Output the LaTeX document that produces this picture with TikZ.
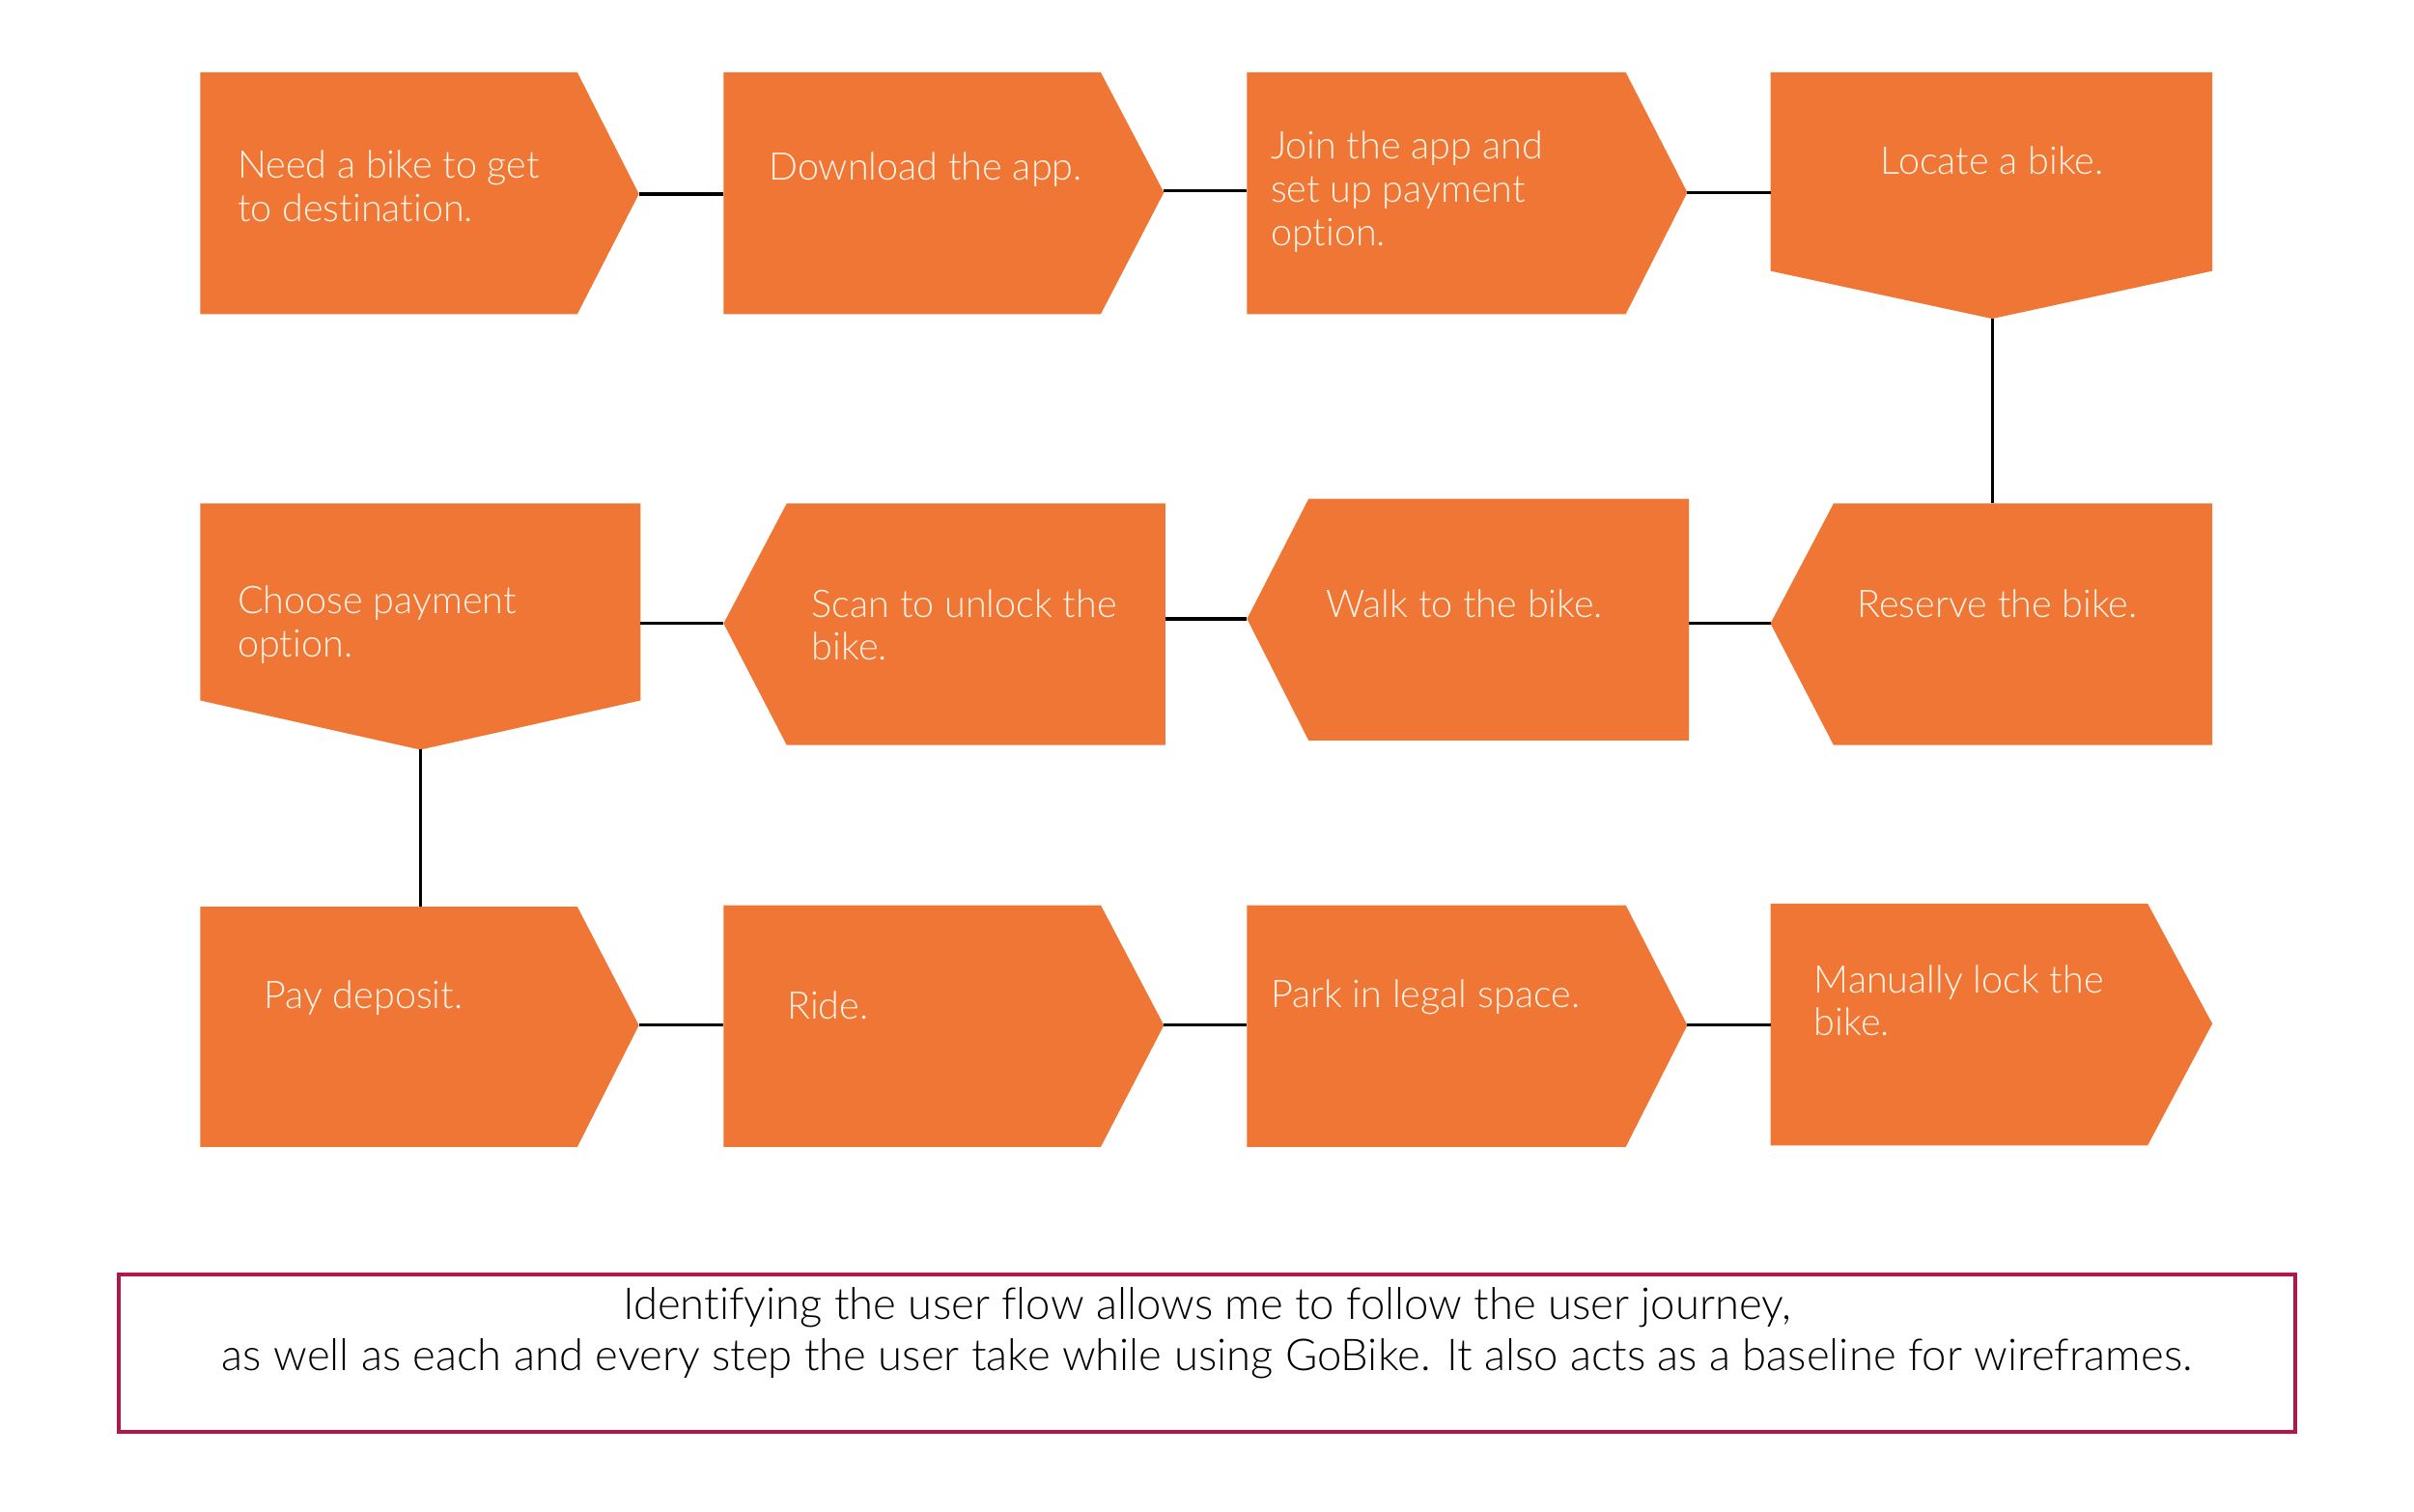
\documentclass[tikz,border=0pt]{standalone}
\usepackage{fontspec}
\setmainfont{Lato Light}[Ligatures=NoCommon]
\definecolor{steporange}{HTML}{EF7634}
\definecolor{stepcream}{HTML}{FFF4E8}
\definecolor{capborder}{HTML}{B3164C}
\tikzset{
  stepfill/.style={fill=steporange},
  steptext/.style={text=stepcream, font=\fontsize{12.4}{14}\selectfont, align=left, inner sep=0pt, anchor=west},
  conn/.style={draw=black, line width=1pt},
}
\begin{document}
\begin{tikzpicture}[x=0.5pt,y=-0.5pt]
\useasboundingbox[fill=white] (0,0) rectangle (1568,982);
% ---------- Row 1 ----------
\fill[stepfill] (130,47) -- (375,47) -- (415,126) -- (375,204) -- (130,204) -- cycle;
\coordinate (s1r) at (415,126);
\node[steptext] (t1) at (154,121) {Need a bike to get\\to destination.};
\fill[stepfill] (470,47) -- (715,47) -- (756,125) -- (715,204) -- (470,204) -- cycle;
\coordinate (s2l) at (470,126);
\coordinate (s2r) at (756,124);
\node[steptext] (t2) at (499,110) {Download the app.};
\fill[stepfill] (810,47) -- (1056,47) -- (1096,125) -- (1056,204) -- (810,204) -- cycle;
\coordinate (s3l) at (810,124);
\coordinate (s3r) at (1096,125);
\node[steptext] (t3) at (825,124.5) {Join the app and\\set up payment\\option.};
\fill[stepfill] (1150,47) -- (1437,47) -- (1437,176) -- (1294,207) -- (1150,176) -- cycle;
\coordinate (s4l) at (1150,125);
\coordinate (s4b) at (1294,207);
\node[steptext, anchor=center] (t4) at (1294,104) {Locate a bike.};
% ---------- Row 2 ----------
\fill[stepfill] (1191,327) -- (1437,327) -- (1437,484) -- (1191,484) -- (1150,405) -- cycle;
\coordinate (s5t) at (1294,327);
\coordinate (s5l) at (1150,405);
\node[steptext] (t5) at (1206,392) {Reserve the bike.};
\fill[stepfill] (850,324) -- (1097,324) -- (1097,481) -- (850,481) -- (810,402) -- cycle;
\coordinate (s6r) at (1097,405);
\coordinate (s6l) at (810,402);
\node[steptext] (t6) at (861,392) {Walk to the bike.};
\fill[stepfill] (511,327) -- (757,327) -- (757,484) -- (511,484) -- (470,405) -- cycle;
\coordinate (s7r) at (757,402);
\coordinate (s7l) at (470,405);
\node[steptext] (t7) at (527,406) {Scan to unlock the\\bike.};
\fill[stepfill] (130,327) -- (416,327) -- (416,455) -- (273,487) -- (130,455) -- cycle;
\coordinate (s8r) at (416,405);
\coordinate (s8b) at (273,487);
\node[steptext] (t8) at (154,406) {Choose payment\\option.};
% ---------- Row 3 ----------
\fill[stepfill] (130,589) -- (375,589) -- (415,666) -- (375,745) -- (130,745) -- cycle;
\coordinate (s9t) at (273,589);
\coordinate (s9r) at (415,666);
\node[steptext] (t9) at (171,648) {Pay deposit.};
\fill[stepfill] (470,588) -- (715,588) -- (756,666) -- (715,745) -- (470,745) -- cycle;
\coordinate (s10l) at (470,666);
\coordinate (s10r) at (756,666);
\node[steptext] (t10) at (511,653) {Ride.};
\fill[stepfill] (810,588) -- (1056,588) -- (1096,666) -- (1056,745) -- (810,745) -- cycle;
\coordinate (s11l) at (810,666);
\coordinate (s11r) at (1096,666);
\node[steptext] (t11) at (825,648) {Park in legal space.};
\fill[stepfill] (1150,587) -- (1395,587) -- (1437,665) -- (1395,744) -- (1150,744) -- cycle;
\coordinate (s12l) at (1150,666);
\node[steptext] (t12) at (1178,650) {Manually lock the\\bike.};
% ---------- Connectors ----------
\draw[conn] (s1r) -- (s2l);
\draw[conn] (s2r) -- (s3l);
\draw[conn] (s3r) -- (s4l);
\draw[conn] (s4b) -- (s5t);
\draw[conn] (s5l) -- (s6r);
\draw[conn] (s6l) -- (s7r);
\draw[conn] (s7l) -- (s8r);
\draw[conn] (s8b) -- (s9t);
\draw[conn] (s9r) -- (s10l);
\draw[conn] (s10r) -- (s11l);
\draw[conn] (s11r) -- (s12l);
% ---------- Caption ----------
\draw[draw=capborder, line width=1.2pt] (77,828) rectangle (1491,930);
\node[font=\fontsize{14.25}{16.5}\selectfont, align=center, inner sep=0pt, anchor=center] (cap) at (784,866)
  {Identifying the user flow allows me to follow the user journey,\\as well as each and every step the user take while using GoBike. It also acts as a baseline for wireframes.};
\end{tikzpicture}
\end{document}
